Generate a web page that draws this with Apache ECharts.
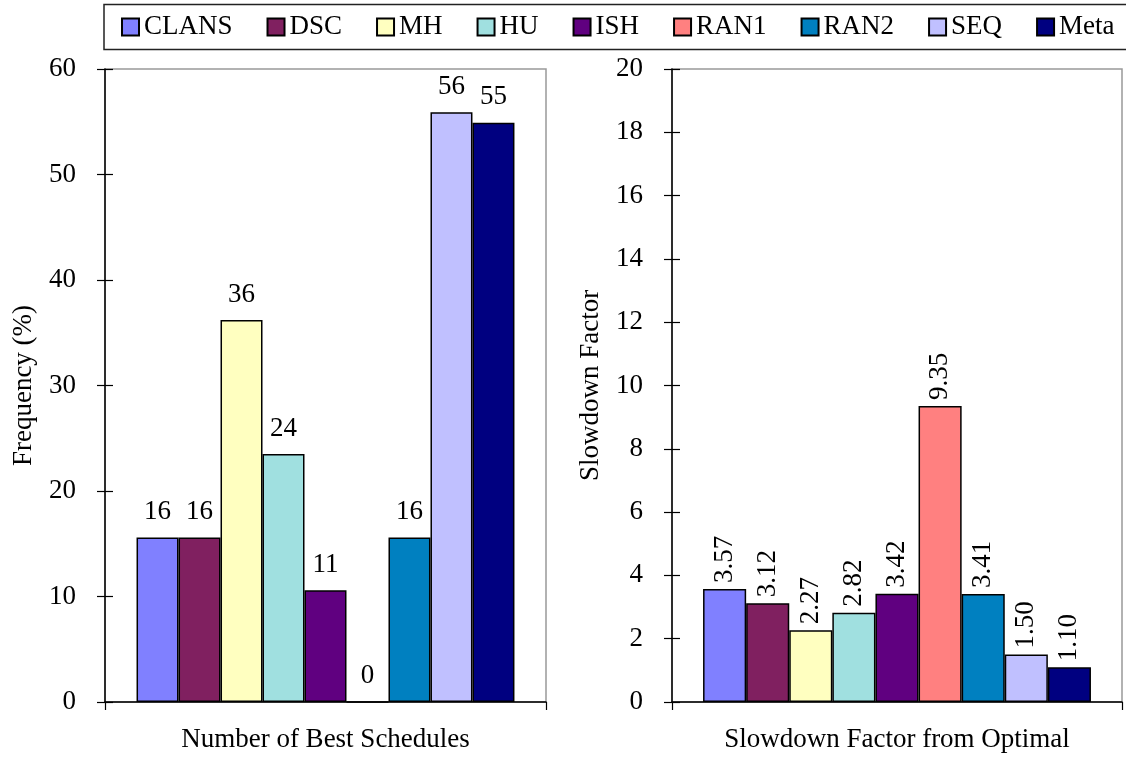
<!DOCTYPE html>
<html>
<head>
<meta charset="utf-8">
<script src="https://cdn.jsdelivr.net/npm/echarts@6/dist/echarts.min.js"></script>
<style>
html,body{margin:0;padding:0;background:#fff;}
#chart{width:1126px;height:761px;}
</style>
</head>
<body>
<div id="chart"></div>
<script>
const seriesNames = ['CLANS','DSC','MH','HU','ISH','RAN1','RAN2','SEQ','Meta'];
const seriesColors = ['#8080FF','#802060','#FFFFC0','#A0E0E0','#600080','#FF8080','#0080C0','#C0C0FF','#000080'];
const frequencyValues = [15.6, 15.6, 36.2, 23.5, 10.6, 0, 15.6, 55.9, 54.9];
const slowdownValues = [3.57, 3.12, 2.27, 2.82, 3.42, 9.35, 3.41, 1.50, 1.10];
const leftCategory = ['Number of Best Schedules'];
const rightCategory = ['Slowdown Factor from Optimal'];
const leftAxisName = 'Frequency (%)';
const rightAxisName = 'Slowdown Factor';

const FONT = '"Liberation Serif", "Times New Roman", serif';
const FS = 27;

function yAxisMain(grid, max, interval, name) {
  return {
    type: 'value', gridIndex: grid, min: 0, max: max, interval: interval,
    name: name, nameLocation: 'middle', nameGap: 68,
    nameTextStyle: { fontFamily: FONT, fontSize: FS, color: '#000' },
    axisLine: { show: true, lineStyle: { color: '#000', width: 1.5 } },
    axisTick: { show: true, length: 8, lineStyle: { color: '#000', width: 1.2 } },
    axisLabel: { fontFamily: FONT, fontSize: FS, color: '#000', margin: 29 },
    splitLine: { show: false }
  };
}
function yAxisInner(grid, max, interval) {
  return {
    type: 'value', gridIndex: grid, min: 0, max: max, interval: interval, position: 'left',
    axisLine: { show: false },
    axisTick: { show: true, inside: true, length: 8, lineStyle: { color: '#000', width: 1.2 } },
    axisLabel: { show: false },
    splitLine: { show: false }
  };
}
function xAxis(grid, cats) {
  return {
    type: 'category', gridIndex: grid, data: cats,
    name: cats[0], nameLocation: 'middle', nameGap: 24,
    nameTextStyle: { fontFamily: FONT, fontSize: FS, color: '#000' },
    axisLine: { show: true, lineStyle: { color: '#000', width: 1.5 } },
    axisTick: { show: true, length: 8, lineStyle: { color: '#000', width: 1.2 } },
    axisLabel: { show: false }
  };
}

const series = [];
seriesNames.forEach((n, i) => {
  series.push({
    type: 'bar', name: n, xAxisIndex: 0, yAxisIndex: 0,
    data: [frequencyValues[i]],
    barGap: 0, barCategoryGap: '14.3%',
    itemStyle: { color: seriesColors[i], borderColor: '#000', borderWidth: 1.5 },
    label: {
      show: true, position: 'top', distance: 12,
      fontFamily: FONT, fontSize: FS, color: '#000',
      formatter: p => String(Math.round(p.value))
    }
  });
});
seriesNames.forEach((n, i) => {
  series.push({
    type: 'bar', name: n, xAxisIndex: 1, yAxisIndex: 2,
    data: [slowdownValues[i]],
    barGap: 0, barCategoryGap: '13.8%',
    itemStyle: { color: seriesColors[i], borderColor: '#000', borderWidth: 1.5 },
    label: {
      show: true, position: 'top', distance: 6, rotate: 90,
      align: 'left', verticalAlign: 'middle',
      fontFamily: FONT, fontSize: FS, color: '#000',
      formatter: p => Number(p.value).toFixed(2)
    }
  });
});

const chart = echarts.init(document.getElementById('chart'), null, { renderer: 'canvas' });
chart.setOption({
  animation: false,
  backgroundColor: '#fff',
  legend: {
    data: seriesNames,
    left: 104, top: 4.5, width: 1200,
    padding: [9, 30, 9, 17],
    itemWidth: 17, itemHeight: 17, itemGap: 34,
    icon: 'rect',
    borderColor: '#222', borderWidth: 1.5,
    textStyle: { fontFamily: FONT, fontSize: FS, color: '#000', lineHeight: 27 }
  },
  grid: [
    { left: 105, right: 580, top: 69, bottom: 59, show: true, borderColor: '#999', borderWidth: 1.5, backgroundColor: 'transparent' },
    { left: 672, right: 4, top: 69, bottom: 59, show: true, borderColor: '#999', borderWidth: 1.5, backgroundColor: 'transparent' }
  ],
  xAxis: [ xAxis(0, leftCategory), xAxis(1, rightCategory) ],
  yAxis: [
    yAxisMain(0, 60, 10, leftAxisName),
    yAxisInner(0, 60, 10),
    yAxisMain(1, 20, 2, rightAxisName),
    yAxisInner(1, 20, 2)
  ],
  series: series
});
</script>
</body>
</html>
